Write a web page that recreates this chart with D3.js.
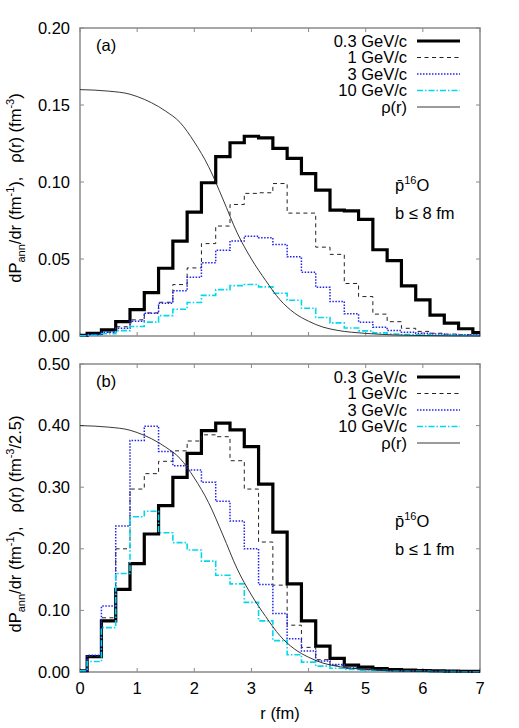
<!DOCTYPE html>
<html>
<head>
<meta charset="utf-8">
<script src="https://cdn.jsdelivr.net/npm/d3@7"></script>
<style>
  body { margin: 0; background: #fff; }
  text { font-family: "Liberation Sans", Arial, sans-serif; fill: #000; }
</style>
</head>
<body>
<svg id="chart" width="519" height="728"></svg>
<script>
// bin centres (fm), histogram drawn as steps around each point
const radii = [0, 0.25, 0.5, 0.75, 1, 1.25, 1.5, 1.75, 2, 2.25, 2.5, 2.75, 3, 3.25, 3.5,
  3.75, 4, 4.25, 4.5, 4.75, 5, 5.25, 5.5, 5.75, 6, 6.25, 6.5, 6.75, 7];

const momenta = ["0.3 GeV/c", "1 GeV/c", "3 GeV/c", "10 GeV/c"];

// panel (a): b <= 8 fm
const topP03 = [0.0005, 0.0017, 0.004, 0.0093, 0.0171, 0.0282, 0.044, 0.0616, 0.0805, 0.0995,
  0.1165, 0.1255, 0.1297, 0.1286, 0.1218, 0.1153, 0.1055, 0.0947, 0.0818, 0.0812, 0.0757,
  0.056, 0.049, 0.0325, 0.0235, 0.0136, 0.0083, 0.0047, 0.0022];
const topP1 = [0.0003, 0.0008, 0.0025, 0.006, 0.0105, 0.015, 0.0219, 0.0334, 0.0442, 0.06,
  0.0714, 0.0854, 0.0926, 0.093, 0.099, 0.0798, 0.0798, 0.0577, 0.053, 0.0341, 0.0256,
  0.0142, 0.0093, 0.005, 0.003, 0.0018, 0.0012, 0.0008, 0.0005];
const topP3 = [0.0003, 0.001, 0.0025, 0.005, 0.0095, 0.0148, 0.0213, 0.0294, 0.0382, 0.0476,
  0.0557, 0.0617, 0.0648, 0.0638, 0.0594, 0.0514, 0.0414, 0.0317, 0.0224, 0.0144, 0.009,
  0.0057, 0.0036, 0.0025, 0.0018, 0.0013, 0.001, 0.0008, 0.0006];
const topP10 = [0.0002, 0.0005, 0.0015, 0.0035, 0.0062, 0.009, 0.0132, 0.0174, 0.0218, 0.0264,
  0.0301, 0.0327, 0.0334, 0.0319, 0.0278, 0.0232, 0.018, 0.012, 0.0085, 0.0052, 0.0033,
  0.002, 0.0013, 0.0009, 0.0007, 0.0005, 0.0004, 0.0003, 0.0002];

// panel (b): b <= 1 fm
const botP03 = [0.002, 0.025, 0.083, 0.134, 0.176, 0.224, 0.27, 0.316, 0.355, 0.392,
  0.404, 0.393, 0.366, 0.305, 0.227, 0.143, 0.083, 0.042, 0.022, 0.011, 0.008,
  0.0055, 0.004, 0.003, 0.0024, 0.002, 0.0015, 0.0012, 0.001];
const botP1 = [0.002, 0.025, 0.088, 0.2, 0.297, 0.322, 0.342, 0.359, 0.375, 0.385,
  0.382, 0.343, 0.297, 0.211, 0.141, 0.076, 0.04, 0.02, 0.011, 0.006, 0.004,
  0.003, 0.0022, 0.0017, 0.0013, 0.001, 0.0008, 0.0006, 0.0005];
const botP3 = [0.002, 0.027, 0.107, 0.237, 0.376, 0.399, 0.358, 0.335, 0.328, 0.308,
  0.277, 0.245, 0.2, 0.142, 0.095, 0.054, 0.034, 0.018, 0.012, 0.0065, 0.004,
  0.003, 0.0022, 0.0016, 0.0012, 0.001, 0.0008, 0.0006, 0.0005];
const botP10 = [0.002, 0.017, 0.072, 0.16, 0.252, 0.261, 0.226, 0.21, 0.198, 0.18,
  0.157, 0.143, 0.113, 0.083, 0.051, 0.028, 0.016, 0.0095, 0.006, 0.004, 0.003,
  0.0022, 0.0016, 0.0012, 0.001, 0.0008, 0.0006, 0.0005, 0.0004];

// nuclear density rho(r) in fm^-3
const rhoR = [0, 0.5, 0.875, 1, 1.25, 1.5, 1.75, 2, 2.25, 2.5, 2.75, 3, 3.25, 3.5, 3.75,
  4, 4.25, 4.5, 5, 5.5, 6, 6.5, 7];
const rhoVal = [0.16, 0.159, 0.157, 0.1555, 0.1515, 0.146, 0.1387, 0.126, 0.11, 0.089, 0.067,
  0.05, 0.036, 0.0235, 0.015, 0.0096, 0.0058, 0.0037, 0.0017, 0.0007, 0.0003, 0.0001, 0];
const rhoFactor = [1, 2.5];

const xTicks = [0, 1, 2, 3, 4, 5, 6, 7];
const yTicksTop = [0, 0.05, 0.1, 0.15, 0.2];
const yTicksBot = [0, 0.1, 0.2, 0.3, 0.4, 0.5];

const halfBin = 0.125;
const plotL = 80, plotR = 480;
const fs = 16.5;

const svg = d3.select("#chart");

const x = d3.scaleLinear().domain([0, 7]).range([plotL, plotR]);

const styles = [
  { color: "#000", width: 3.2, dash: null },
  { color: "#222", width: 1, dash: "4,3.5" },
  { color: "#2222ee", width: 1.5, dash: "1.5,1.5" },
  { color: "#00d8ee", width: 1.6, dash: "6,2,1.5,2" },
  { color: "#222", width: 0.9, dash: null }
];

const panels = [
  { top: 28, bottom: 336, max: 0.2, ticks: yTicksTop, tag: "(a)", b: "b \u2264 8 fm",
    data: [topP03, topP1, topP3, topP10], rhoUnit: "" },
  { top: 364, bottom: 672, max: 0.5, ticks: yTicksBot, tag: "(b)", b: "b \u2264 1 fm",
    data: [botP03, botP1, botP3, botP10], rhoUnit: "/2.5" }
];

panels.forEach((p, pi) => {
  const y = d3.scaleLinear().domain([0, p.max]).range([p.bottom, p.top]);
  const g = svg.append("g");

  // frame
  g.append("rect")
    .attr("x", plotL).attr("y", p.top)
    .attr("width", plotR - plotL).attr("height", p.bottom - p.top)
    .attr("fill", "none").attr("stroke", "#8a8a8a").attr("stroke-width", 1.5);

  // ticks (inward, mirrored)
  xTicks.forEach(t => {
    g.append("line").attr("x1", x(t)).attr("x2", x(t))
      .attr("y1", p.bottom).attr("y2", p.bottom - 4)
      .attr("stroke", "#8a8a8a").attr("stroke-width", 1);
    g.append("line").attr("x1", x(t)).attr("x2", x(t))
      .attr("y1", p.top).attr("y2", p.top + 4)
      .attr("stroke", "#8a8a8a").attr("stroke-width", 1);
  });
  p.ticks.forEach(t => {
    g.append("line").attr("x1", plotL).attr("x2", plotL + 4)
      .attr("y1", y(t)).attr("y2", y(t))
      .attr("stroke", "#8a8a8a").attr("stroke-width", 1);
    g.append("line").attr("x1", plotR).attr("x2", plotR - 4)
      .attr("y1", y(t)).attr("y2", y(t))
      .attr("stroke", "#8a8a8a").attr("stroke-width", 1);
    g.append("text")
      .attr("x", 70).attr("y", y(t) + 5.5)
      .attr("text-anchor", "end").attr("font-size", fs)
      .text(t.toFixed(2));
  });

  // histograms as steps
  const line = d3.line().x(d => x(d[0])).y(d => y(d[1]));
  p.data.forEach((vals, si) => {
    const pts = [];
    radii.forEach((r, i) => {
      pts.push([Math.max(0, r - halfBin), vals[i]]);
      pts.push([Math.min(7, r + halfBin), vals[i]]);
    });
    const s = styles[si];
    g.append("path")
      .attr("d", line(pts))
      .attr("fill", "none")
      .attr("stroke", s.color)
      .attr("stroke-width", s.width)
      .attr("stroke-dasharray", s.dash)
      .attr("stroke-linejoin", "miter");
  });

  // density curve
  const rhoLine = d3.line()
    .x((d, i) => x(rhoR[i]))
    .y(d => y(d * rhoFactor[pi]))
    .curve(d3.curveMonotoneX);
  g.append("path")
    .attr("d", rhoLine(rhoVal))
    .attr("fill", "none")
    .attr("stroke", styles[4].color)
    .attr("stroke-width", styles[4].width);

  // legend
  const labels = momenta.concat(["\u03c1(r)"]);
  labels.forEach((lab, i) => {
    const ly = p.top + 13 + i * 16.5;
    g.append("text")
      .attr("x", 407).attr("y", ly + 5.5)
      .attr("text-anchor", "end").attr("font-size", fs)
      .text(lab);
    const s = styles[i];
    g.append("line")
      .attr("x1", 417).attr("x2", 460)
      .attr("y1", ly).attr("y2", ly)
      .attr("stroke", s.color)
      .attr("stroke-width", s.width)
      .attr("stroke-dasharray", s.dash);
  });

  // panel tag
  g.append("text")
    .attr("x", 96).attr("y", p.top + 23)
    .attr("font-size", fs).text(p.tag);

  // reaction label
  const rx = g.append("text")
    .attr("x", 395).attr("y", p.top + 163)
    .attr("font-size", fs);
  rx.append("tspan").text("p\u0304");
  rx.append("tspan").attr("dy", -7).attr("font-size", 11).text("16");
  rx.append("tspan").attr("dy", 7).text("O");

  g.append("text")
    .attr("x", 395).attr("y", p.top + 191)
    .attr("font-size", fs).text(p.b);

  // y label
  const cy = (p.top + p.bottom) / 2 + 6;
  const yl = g.append("text")
    .attr("transform", `translate(21,${cy}) rotate(-90)`)
    .attr("text-anchor", "middle").attr("font-size", fs);
  yl.append("tspan").text("dP");
  yl.append("tspan").attr("dy", 4).attr("font-size", 11).text("ann");
  yl.append("tspan").attr("dy", -4).text("/dr (fm");
  yl.append("tspan").attr("dy", -7).attr("font-size", 11).text("-1");
  yl.append("tspan").attr("dy", 7).text("),\u00a0\u00a0\u00a0\u03c1(r) (fm");
  yl.append("tspan").attr("dy", -7).attr("font-size", 11).text("-3");
  yl.append("tspan").attr("dy", 7).text(p.rhoUnit + ")");
});

// x tick labels and title (bottom panel only)
xTicks.forEach(t => {
  svg.append("text")
    .attr("x", x(t)).attr("y", 694)
    .attr("text-anchor", "middle").attr("font-size", fs)
    .text(t);
});
svg.append("text")
  .attr("x", (plotL + plotR) / 2).attr("y", 719)
  .attr("text-anchor", "middle").attr("font-size", fs)
  .text("r (fm)");
</script>
</body>
</html>
